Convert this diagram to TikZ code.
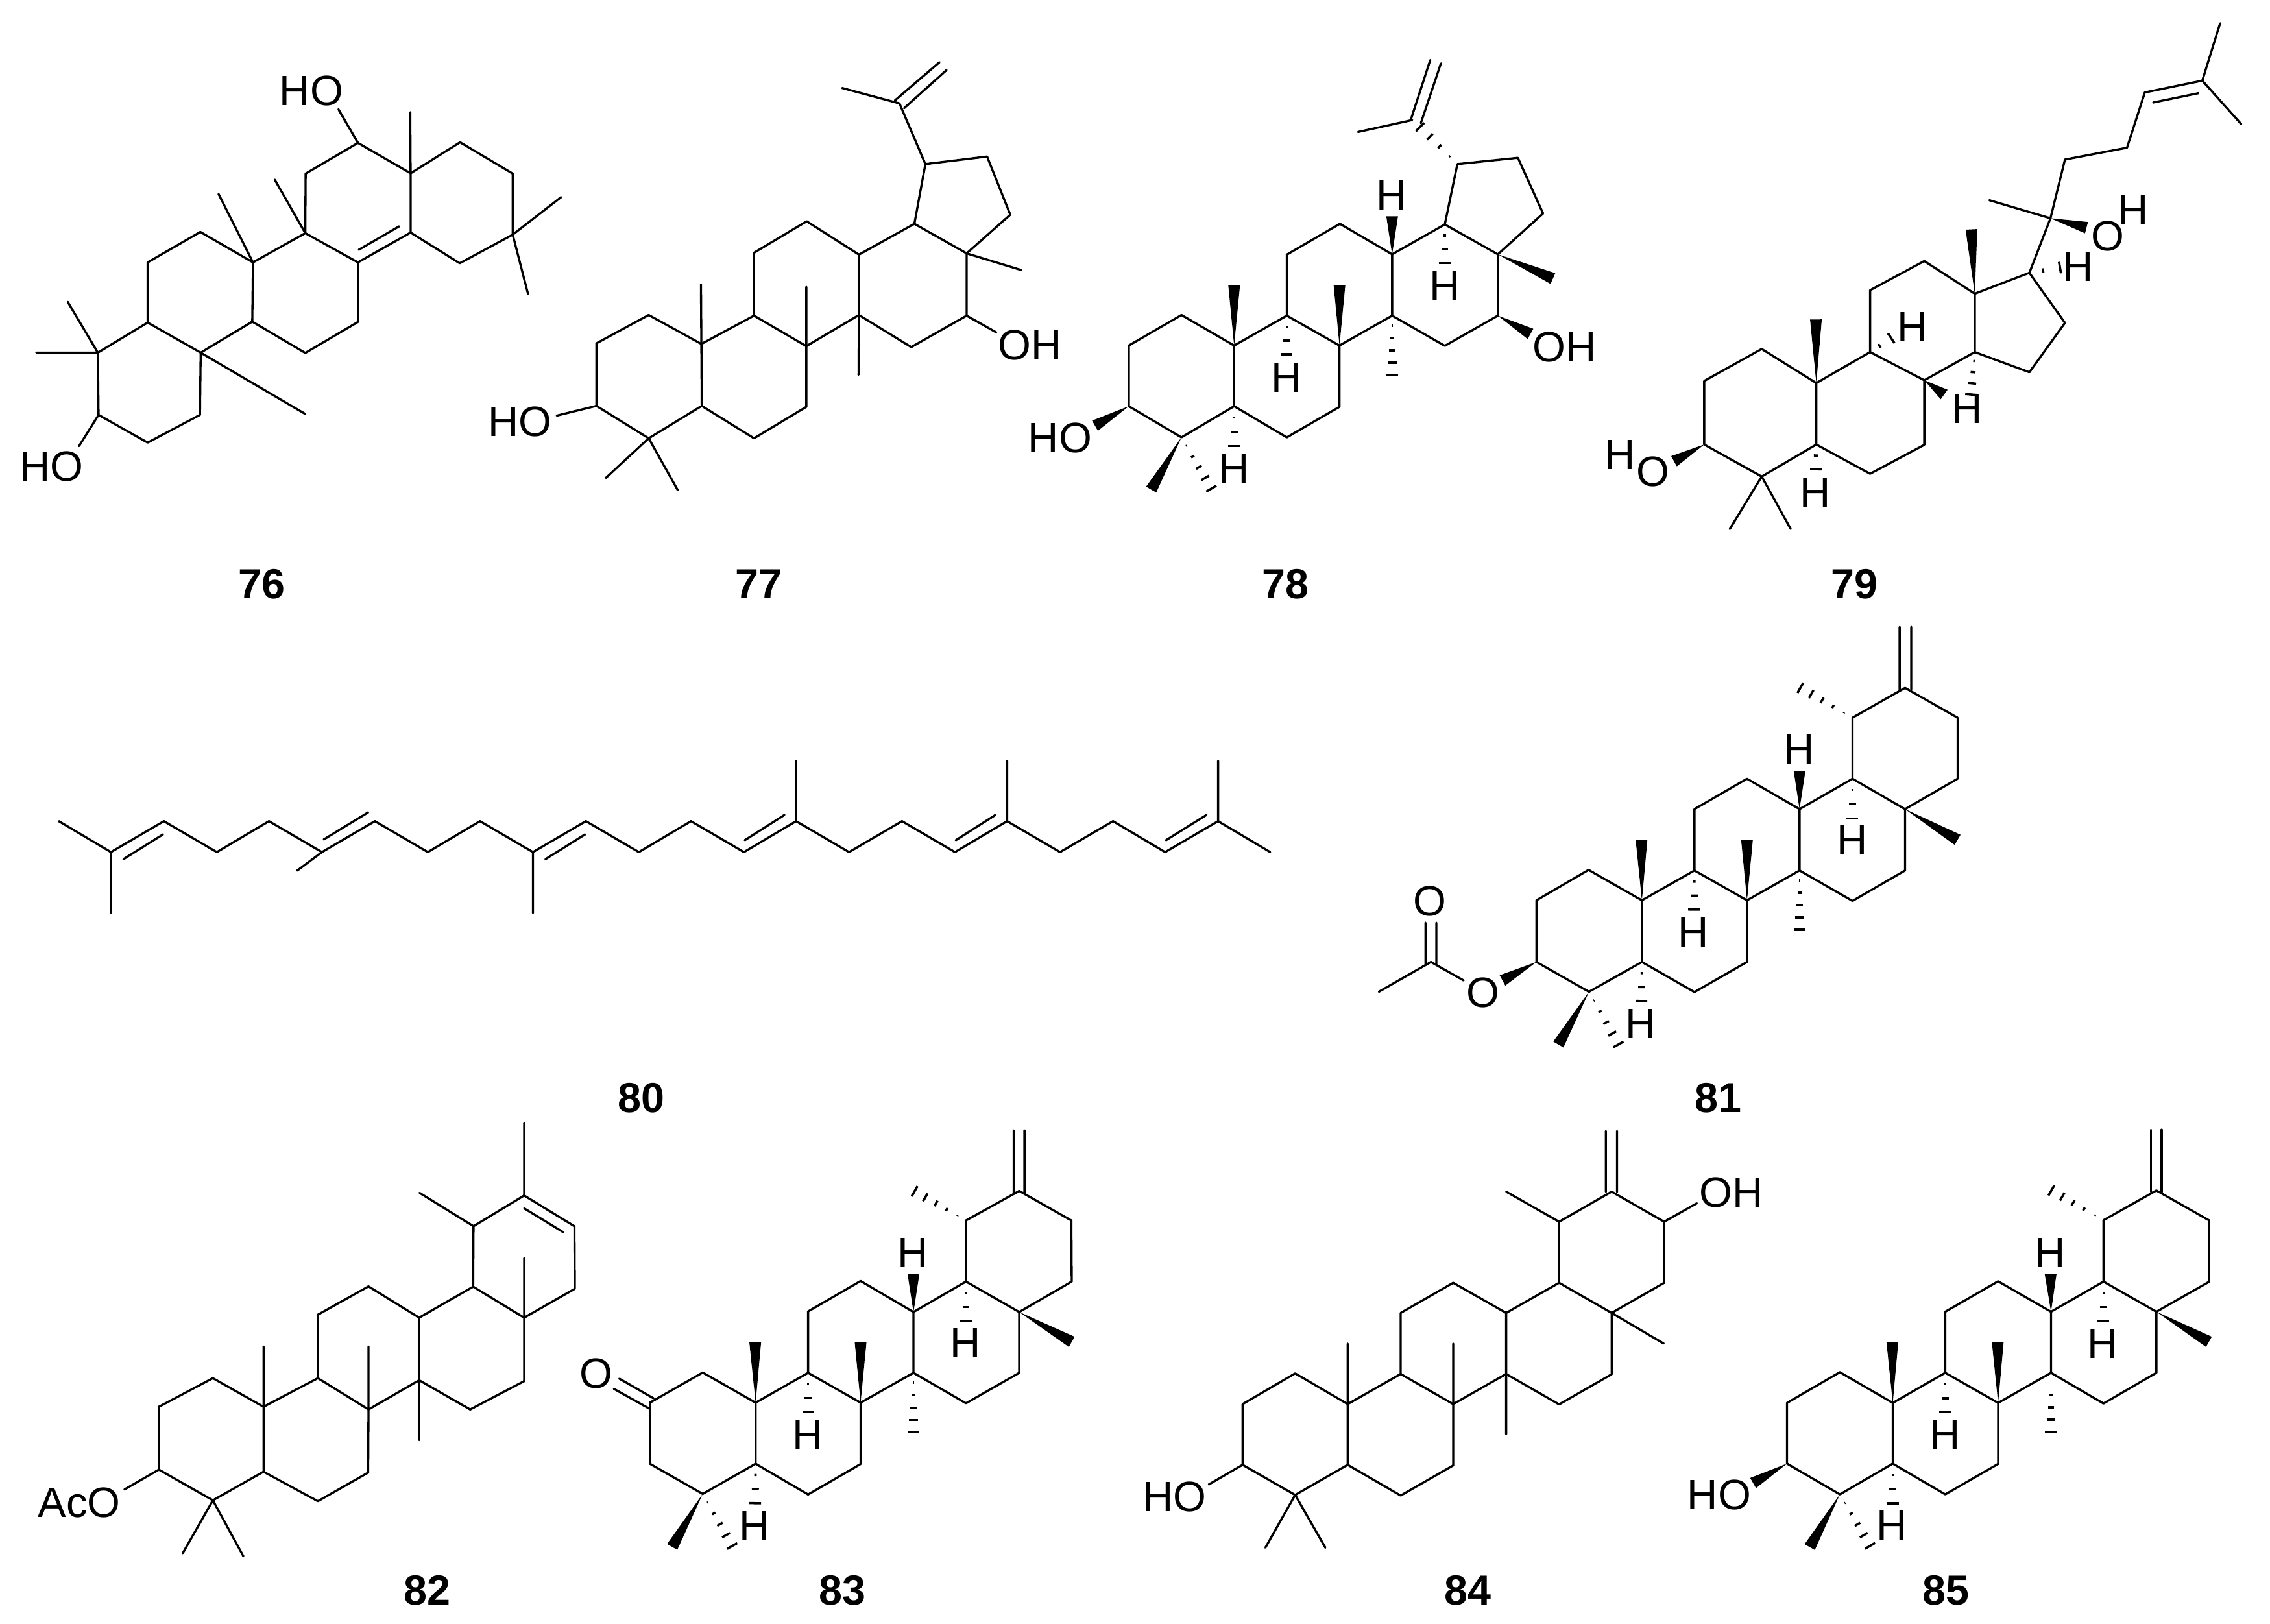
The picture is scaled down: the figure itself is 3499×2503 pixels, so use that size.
\documentclass[tikz,border=0pt]{standalone}
\usepackage{fontspec}
\setmainfont{Liberation Sans}
\usetikzlibrary{calc}
\tikzset{
  zm/.style n args={4}{shift={(#1,#2)},x={#3/1568*0.01cm},y={-#4/1568*0.01cm}},
  bond/.style={line width=0.95pt,line cap=round,line join=round,black},
  hashl/.style={line width=1pt,line cap=butt,black},
  lab/.style={font=\fontsize{18.6}{20}\selectfont,inner sep=0pt,text height=13.3pt,text depth=0pt},
  num/.style={font=\fontsize{18.4}{20}\selectfont\bfseries,inner sep=0pt,text height=13pt,text depth=0pt}
}
\newcommand{\mAtoms}[1]{\foreach \x/\y [count=\n] in {#1}{\coordinate (a\n) at (\x,\y);}}
\newcommand{\mEnds}[1]{\foreach \x/\y [count=\n] in {#1}{\coordinate (f\n) at (\x,\y);}}
\newcommand{\mWedge}[2]{\fill[black] ($(#2)!0.09cm!90:(#1)$) -- (#1) -- ($(#2)!0.09cm!-90:(#1)$) -- cycle;}
\newcommand{\mHash}[3]{\foreach \i in {1,...,#3}{%
  \pgfmathsetmacro\mt{(\i-0.2)/(#3-0.2)}%
  \pgfmathsetmacro\mw{0.09*(\mt-0.1)/0.9}%
  \draw[hashl] ($(#1)!\mt!(#2)!\mw cm!90:(#1)$) -- ($(#1)!\mt!(#2)!\mw cm!-90:(#1)$);}}
\newcommand{\mRingsABCD}{%
  \draw[bond] (a1)--(a2)--(a3)--(a4)--(a5)--(a6)--cycle;
  \draw[bond] (a3)--(a7)--(a8)--(a9)--(a10)--(a4);
  \draw[bond] (a7)--(a11)--(a12)--(a13)--(a14)--(a8);
  \draw[bond] (a13)--(a15)--(a16)--(a17)--(a18)--(a14);}
\newcommand{\mRingE}{\draw[bond] (a15)--(a19)--(a20)--(a21)--(a22)--(a16);}
\begin{document}
\begin{tikzpicture}[x=0.01cm,y=-0.01cm]
\path[use as bounding box] (0,0) rectangle (3499,2503);

% 76
\begin{scope}[zm={0}{60}{860}{720},name prefix=m76-]
\mAtoms{275/1053,277/1262,415/1355,562/1262,564/1053,415/952,415/750,563/648,711/750,709/949,858/652,1006/750,1006/950,858/1054,859/452,1006/349,1154/451,1154/650,1293/347,1441/452,1441/657,1292/753}
\mEnds{1008/708,1122/629,102/1053,190/882,858/1259,614/520,772/472,1153/246,1484/856,1577/531,951/236,222/1367}
\draw[bond] (a1)--(a2)--(a3)--(a4)--(a5)--(a6)--cycle;
\draw[bond] (a6)--(a7)--(a8)--(a9)--(a10)--(a5);
\draw[bond] (a9)--(a11)--(a12)--(a13)--(a14)--(a10);
\draw[bond] (a11)--(a15)--(a16)--(a17)--(a18)--(a12);
\draw[bond] (a17)--(a19)--(a20)--(a21)--(a22)--(a18);
\draw[bond] (f1)--(f2);
\draw[bond] (a1)--(f3) (a1)--(f4) (a5)--(f5) (a9)--(f6) (a11)--(f7) (a17)--(f8) (a21)--(f9) (a21)--(f10) (a16)--(f11) (a2)--(f12);
\node[lab] (ho1) at (875,172) {HO};
\node[lab] (ho2) at (145,1433) {HO};
\end{scope}

% 77
\begin{scope}[zm={720}{60}{950}{760},name prefix=m77-]
\mAtoms{329/968,462/878,596/970,597/1167,462/1270,329/1167,730/880,863/977,863/1170,730/1270,730/680,864/580,997/686,997/878,1138/588,1271/682,1271/880,1130/980,1166/398,1323/374,1382/559,1100/205}
\mEnds{595/780,863/788,996/1068,1410/735,353/1396,536/1435,1346/933,228/1198,954/156,1088/196,1202/74,1112/220,1220/99}
\mRingsABCD
\draw[bond] (a15)--(a19)--(a20)--(a21)--(a16);
\draw[bond] (a19)--(a22)--(f9);
\draw[bond] (f10)--(f11) (f12)--(f13);
\draw[bond] (a3)--(f1) (a8)--(f2) (a14)--(f3) (a16)--(f4) (a5)--(f5) (a5)--(f6) (a17)--(f7) (a6)--(f8);
\node[lab] (oh) at (1432,972) {OH};
\node[lab] (ho) at (135,1216) {HO};
\end{scope}

% 78
\begin{scope}[zm={1560}{60}{950}{760},name prefix=m78-]
\mAtoms{297/975,431/878,565/975,565/1168,431/1267,297/1168,699/880,833/975,833/1170,699/1267,699/686,834/588,967/685,967/880,1101/590,1236/685,1236/880,1101/976,1133/398,1287/378,1351/555,1018/258}
\mEnds{565/783,833/783,967/564,1376/762,1319/938,211/1230,354/1433,699/1003,967/1069,1101/713,565/1295,507/1430,1038/280,880/296,1015/255,1064/67,1040/268,1091/78}
\mRingsABCD
\draw[bond] (a15)--(a19)--(a20)--(a21)--(a16);
\mWedge{a3}{f1}\mWedge{a8}{f2}\mWedge{a13}{f3}\mWedge{a16}{f4}\mWedge{a17}{f5}\mWedge{a6}{f6}\mWedge{a5}{f7}
\mHash{a7}{f8}{3}\mHash{a14}{f9}{5}\mHash{a15}{f10}{3}\mHash{a4}{f11}{3}\mHash{a5}{f12}{5}\mHash{a19}{f13}{4}
\draw[bond] (a22)--(f14) (f15)--(f16) (f17)--(f18);
\node[lab] (h1) at (966,495) {H};
\node[lab] (h2) at (699,1075) {H};
\node[lab] (h3) at (1101,785) {H};
\node[lab] (h4) at (564,1365) {H};
\node[lab] (oh) at (1405,978) {OH};
\node[lab] (ho) at (122,1267) {HO};
\end{scope}

% 79
\begin{scope}[zm={2440}{0}{1000}{840},name prefix=m79-]
\mAtoms{293/1096,432/1004,564/1102,564/1279,432/1371,293/1279,694/1013,825/1094,825/1280,694/1363,694/835,825/751,947/845,947/1013,1079/785,1165/929,1079/1071,1130/628,1165/459,1315/425,1358/266,1497/232}
\mEnds{1540/67,1591/357,1378/295,1488/268,982/576,1217/655,939/660,563/919,873/1135,220/1327,1153/770,745/973,938/1135,563/1350,355/1522,502/1522}
\draw[bond] (a1)--(a2)--(a3)--(a4)--(a5)--(a6)--cycle;
\draw[bond] (a3)--(a7)--(a8)--(a9)--(a10)--(a4);
\draw[bond] (a7)--(a11)--(a12)--(a13)--(a14)--(a8);
\draw[bond] (a13)--(a15)--(a16)--(a17)--(a14);
\draw[bond] (a15)--(a18)--(a19)--(a20)--(a21)--(a22)--(f1);
\draw[bond] (a22)--(f2) (f3)--(f4) (a18)--(f5) (a5)--(f15) (a5)--(f16);
\mWedge{a18}{f6}\mWedge{a13}{f7}\mWedge{a3}{f8}\mWedge{a8}{f9}\mWedge{a6}{f10}
\mHash{a15}{f11}{2}\mHash{a7}{f12}{2}\mHash{a14}{f13}{4}\mHash{a4}{f14}{2}
\node[lab] (o1) at (1268,678) {O};
\node[lab] (h1) at (1330,603) {H};
\node[lab] (h2) at (1197,765) {H};
\node[lab] (h3) at (797,940) {H};
\node[lab] (h4) at (928,1175) {H};
\node[lab] (h5) at (562,1415) {H};
\node[lab] (h6) at (90,1307) {H};
\node[lab] (o2) at (170,1355) {O};
\end{scope}

% 80
\begin{scope}[zm={60}{1130}{2000}{522.67},name prefix=m80-]
\mAtoms{24/407,87/550,151/407,215/550,278/407,342/550,406/407,470/550,533/407,597/550,661/407,725/550,788/407,852/550,915/407,979/550,1043/407,1107/550,1170/407,1234/550,1298/407,1361/550,1425/407,1488/550}
\mEnds{102/583,150/468,344/492,398/366,612/583,660/468,853/495,901/378,1108/495,1156/378,1362/495,1411/378,87/832,312/636,597/832,915/128,1170/128,1425/128}
\draw[bond] (a1)--(a2)--(a3)--(a4)--(a5)--(a6)--(a7)--(a8)--(a9)--(a10)--(a11)--(a12)--(a13)--(a14)--(a15)--(a16)--(a17)--(a18)--(a19)--(a20)--(a21)--(a22)--(a23)--(a24);
\draw[bond] (f1)--(f2) (f3)--(f4) (f5)--(f6) (f7)--(f8) (f9)--(f10) (f11)--(f12);
\draw[bond] (a2)--(f13) (a6)--(f14) (a10)--(f15) (a15)--(f16) (a19)--(f17) (a23)--(f18);
\end{scope}

% 81
\begin{scope}[zm={2080}{950}{1000}{720},name prefix=m81-]
\mAtoms{452/953,578/851,707/953,707/1160,579/1260,452/1160,834/853,961/953,961/1160,834/1261,834/647,961/545,1088/647,1088/853,1216/545,1343/647,1343/853,1216/955,1216/340,1343/240,1470/340,1470/545}
\mEnds{706/750,961/750,1088/519,1470/750,370/1222,505/1437,833/984,1088/1052,1216/678,706/1291,650/1437,1090/240,1330/245,1330/35,1358/245,1358/35,276/1222,197/1160,71/1260,184/1168,184/1028,210/1168,210/1028}
\mRingsABCD\mRingE
\mWedge{a3}{f1}\mWedge{a8}{f2}\mWedge{a13}{f3}\mWedge{a16}{f4}\mWedge{a6}{f5}\mWedge{a5}{f6}
\mHash{a7}{f7}{3}\mHash{a14}{f8}{5}\mHash{a15}{f9}{3}\mHash{a4}{f10}{3}\mHash{a5}{f11}{5}\mHash{a19}{f12}{5}
\draw[bond] (f13)--(f14) (f15)--(f16) (f17)--(f18)--(f19) (f20)--(f21) (f22)--(f23);
\node[lab] (h1) at (1087,445) {H};
\node[lab] (h2) at (832,1058) {H};
\node[lab] (h3) at (1215,750) {H};
\node[lab] (h4) at (705,1365) {H};
\node[lab] (o1) at (323,1262) {O};
\node[lab] (o2) at (195,955) {O};
\end{scope}

% 82
\begin{scope}[zm={40}{1720}{900}{720},name prefix=m82-]
\mAtoms{357/976,502/880,638/976,638/1194,502/1290,357/1187,784/880,920/985,919/1197,784/1293,784/667,920/572,1056/677,1056/887,1201/573,1338/677,1338/890,1193/985,1202/370,1338/267,1473/370,1474/580}
\mEnds{1338/310,1443/390,638/774,920/774,1056/1088,1338/477,1338/24,1057/258,421/1468,584/1478,264/1254}
\mRingsABCD\mRingE
\draw[bond] (f1)--(f2);
\draw[bond] (a3)--(f3) (a8)--(f4) (a14)--(f5) (a16)--(f6) (a20)--(f7) (a19)--(f8) (a5)--(f9) (a5)--(f10) (a6)--(f11);
\node[lab] (aco) at (143,1295) {AcO};
\end{scope}

% 83
\begin{scope}[zm={880}{1740}{900}{700},name prefix=m83-]
\mAtoms{212/945,354/841,496/945,496/1156,354/1260,212/1156,637/842,778/945,778/1157,637/1262,637/630,778/525,920/632,920/842,1061/527,1204/632,1204/842,1061/947,1061/316,1204/214,1344/316,1345/527}
\mEnds{495/737,778/737,920/502,1345/735,272/1443,637/977,920/1047,1061/663,495/1292,433/1440,923/215,1189/222,1189/5,1218/222,1218/5,130/862,222/930,115/897,210/965}
\mRingsABCD\mRingE
\mWedge{a3}{f1}\mWedge{a8}{f2}\mWedge{a13}{f3}\mWedge{a16}{f4}\mWedge{a5}{f5}
\mHash{a7}{f6}{3}\mHash{a14}{f7}{5}\mHash{a15}{f8}{3}\mHash{a4}{f9}{3}\mHash{a5}{f10}{5}\mHash{a19}{f11}{5}
\draw[bond] (f12)--(f13) (f14)--(f15) (f16)--(f17) (f18)--(f19);
\node[lab] (h1) at (919,425) {H};
\node[lab] (h2) at (636,1055) {H};
\node[lab] (h3) at (1060,738) {H};
\node[lab] (h4) at (493,1370) {H};
\node[lab] (o) at (68,843) {O};
\end{scope}

% 84
\begin{scope}[zm={1740}{1720}{1000}{720},name prefix=m84-]
\mAtoms{275/967,402/864,529/967,529/1171,402/1272,275/1171,657/866,784/967,784/1173,657/1274,657/661,784/560,912/661,912/866,1040/560,1167/661,1167/867,1040/968,1040/355,1167/254,1294/355,1294/560}
\mEnds{529/764,784/764,912/1068,1293/764,912/254,330/1449,475/1449,1153/255,1153/50,1180/255,1180/50,1373/293,193/1237}
\mRingsABCD\mRingE
\draw[bond] (a3)--(f1) (a8)--(f2) (a14)--(f3) (a16)--(f4) (a19)--(f5) (a5)--(f6) (a5)--(f7) (f8)--(f9) (f10)--(f11) (a21)--(f12) (a6)--(f13);
\node[lab] (oh) at (1456,256) {OH};
\node[lab] (ho) at (111,1277) {HO};
\end{scope}

% 85
\begin{scope}[zm={2580}{1720}{900}{720},name prefix=m85-]
\mAtoms{304/963,446/860,588/963,588/1167,446/1270,304/1167,729/862,871/963,871/1168,729/1270,729/657,871/555,1013/657,1013/862,1154/556,1296/657,1296/862,1154/965,1154/350,1296/250,1437/350,1437/557}
\mEnds{587/760,870/760,1012/531,1437/758,213/1232,365/1447,729/994,1013/1061,1154/688,588/1300,527/1443,1014/250,1281/255,1281/46,1310/255,1310/46}
\mRingsABCD\mRingE
\mWedge{a3}{f1}\mWedge{a8}{f2}\mWedge{a13}{f3}\mWedge{a16}{f4}\mWedge{a6}{f5}\mWedge{a5}{f6}
\mHash{a7}{f7}{3}\mHash{a14}{f8}{5}\mHash{a15}{f9}{3}\mHash{a4}{f10}{3}\mHash{a5}{f11}{5}\mHash{a19}{f12}{5}
\draw[bond] (f13)--(f14) (f15)--(f16);
\node[lab] (h1) at (1010,457) {H};
\node[lab] (h2) at (728,1068) {H};
\node[lab] (h3) at (1152,762) {H};
\node[lab] (h4) at (586,1373) {H};
\node[lab] (ho) at (122,1270) {HO};
\end{scope}

% compound numbers
\begin{scope}[zm={0}{0}{3499}{3499},name prefix=lbl-]
\node[num] (n76) at (181,403) {76};
\node[num] (n77) at (524,403) {77};
\node[num] (n78) at (888,403) {78};
\node[num] (n79) at (1281,403) {79};
\node[num] (n80) at (443,758) {80};
\node[num] (n81) at (1187,758) {81};
\node[num] (n82) at (295,1098) {82};
\node[num] (n83) at (582,1098) {83};
\node[num] (n84) at (1014,1098) {84};
\node[num] (n85) at (1344,1098) {85};
\end{scope}
\end{tikzpicture}
\end{document}
